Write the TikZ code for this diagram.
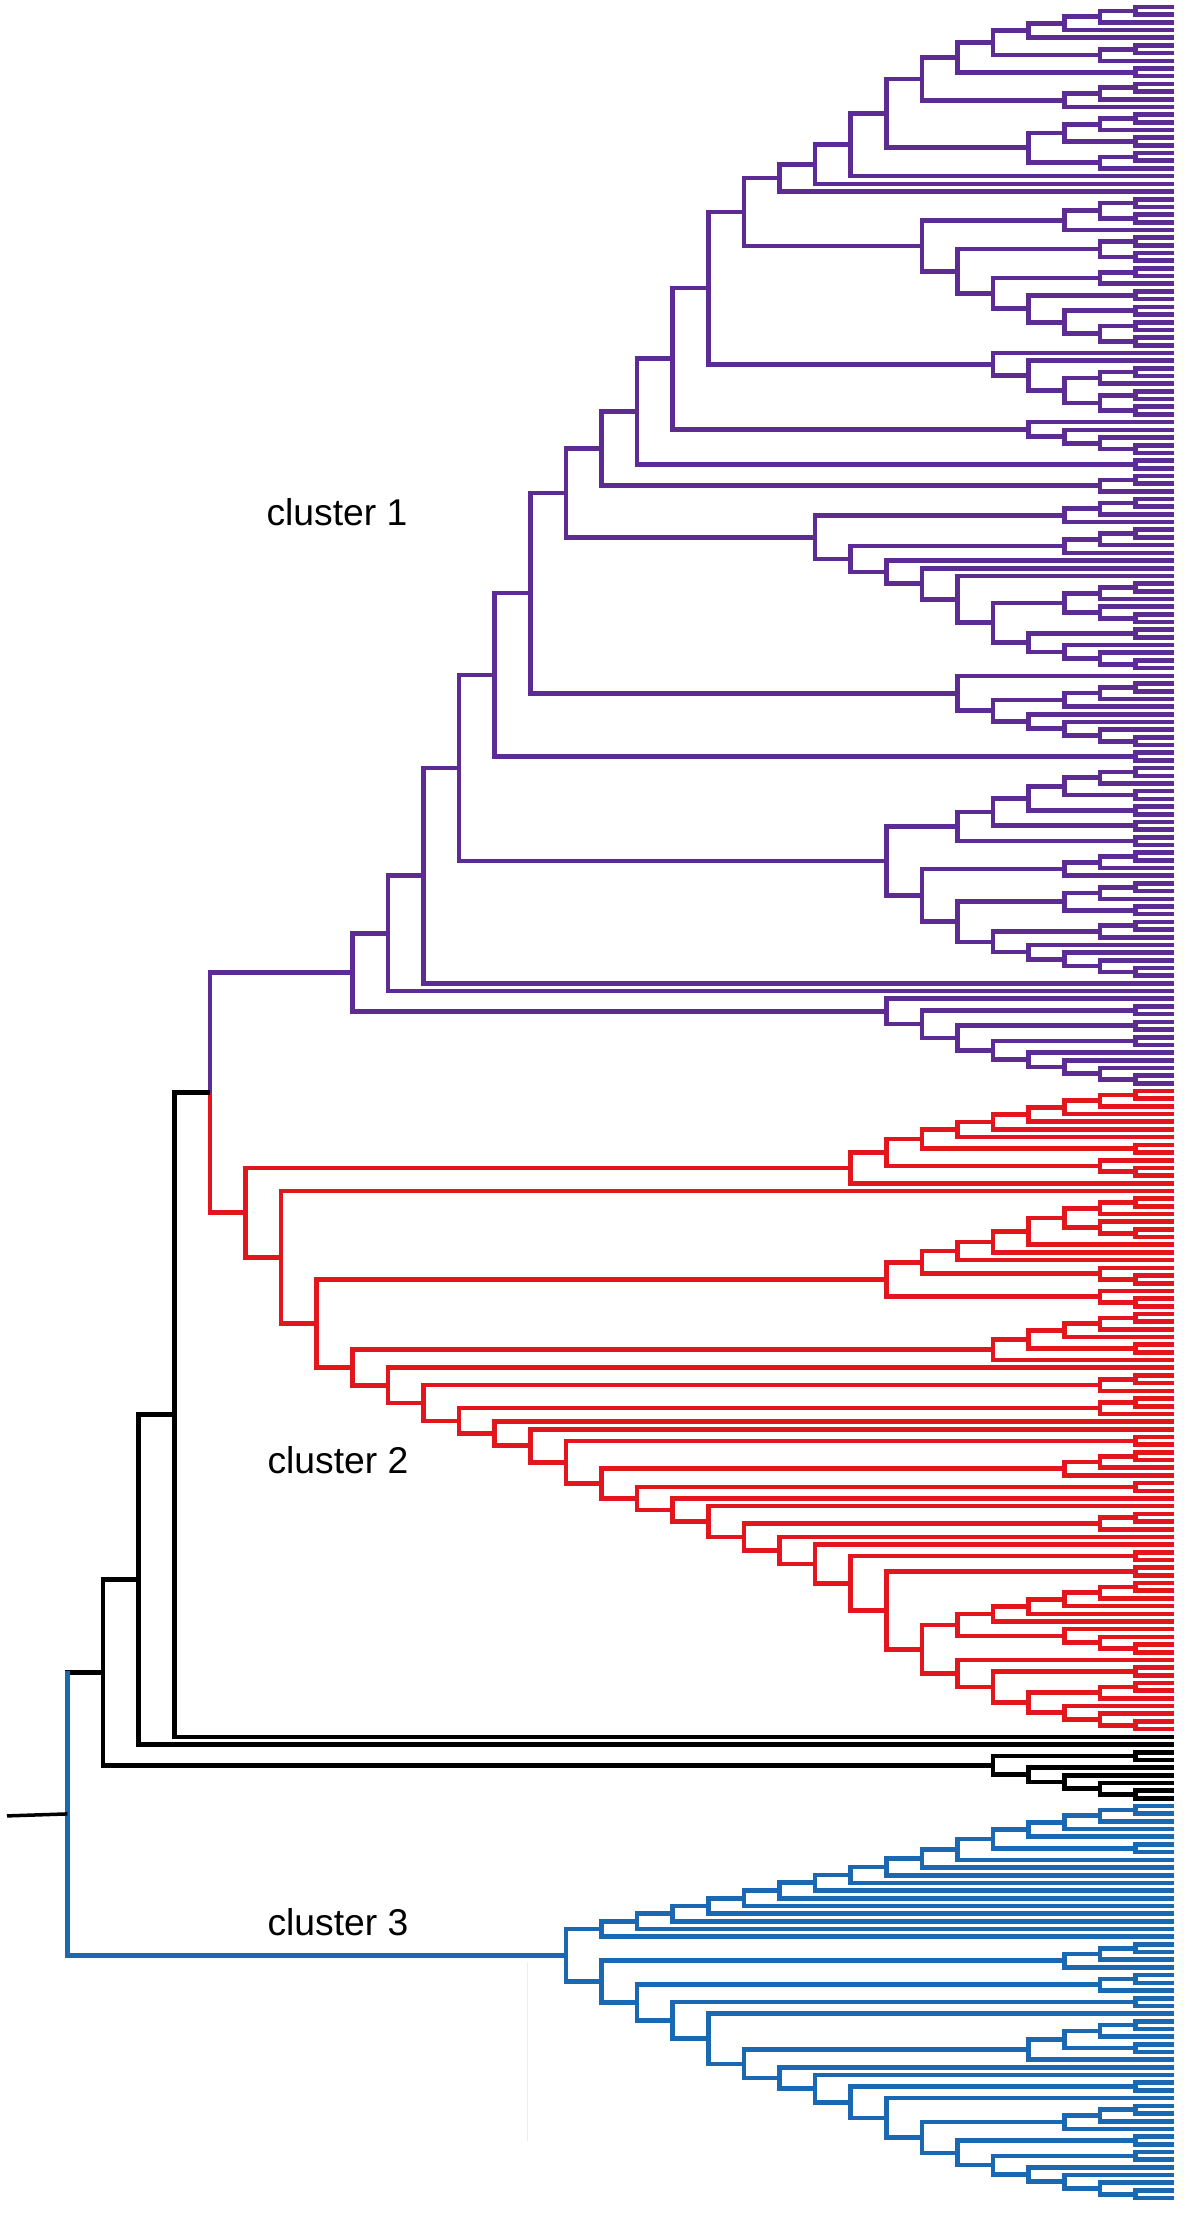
\documentclass[tikz,border=0pt]{standalone}
\usepackage{fontspec}
\setmainfont{Liberation Sans}

\definecolor{cpurple}{RGB}{92,44,148}
\definecolor{cred}{RGB}{226,22,28}
\definecolor{cblue}{RGB}{26,104,178}

% dendrogram helpers: leaves are placed top to bottom,
% an inner node sits at level h (x = 1171 - 35.6 h)
\newcount\leafno
\newcount\nodeno
\def\tc{black}
\newcommand\dleaf{%
  \global\advance\leafno by 1
  \pgfmathsetmacro\tmpy{7+(\the\leafno-1)*7.688}%
  \xdef\ry{\tmpy}\xdef\rx{1174}\xdef\rc{\tc}}
\newcommand\dnode[3]{%
  \begingroup
  #2\let\ya\ry\let\xa\rx\let\ca\rc
  #3\let\yb\ry\let\xb\rx\let\cb\rc
  \pgfmathsetmacro\xn{1171-35.6*#1}%
  \pgfmathsetmacro\yn{(\ya+\yb)/2}%
  \global\advance\nodeno by 1
  \coordinate (n\the\nodeno) at (\xn,\yn);
  \draw[color=\ca] (\xa,\ya) -- (\xn,\ya) -- (\xn,\yn);
  \draw[color=\cb] (\xb,\yb) -- (\xn,\yb) -- (\xn,\yn);
  \xdef\ry{\yn}\xdef\rx{\xn}\xdef\rc{\tc}%
  \xdef\lya{\ya}\xdef\lyb{\yb}%
  \endgroup}
\newcommand\dclr[2]{\begingroup\def\tc{#1}#2\endgroup}
\newcommand\dpair{\dnode{1}{\dleaf}{\dleaf}}
\newcommand\dtop[2]{\dnode{#1}{#2}{\dleaf}}
\newcommand\dbot[2]{\dnode{#1}{\dleaf}{#2}}

% cluster 1
\newcommand\subPa{\dtop{11}{\dtop{10}{\dtop{9}{\dnode{8}{\subPaa}{\subPab}}}}}
\newcommand\subPaa{\dnode{7}{\dnode{6}{\dnode{5}{\dtop{4}{\dtop{3}{\dtop{2}{\dpair}}}}{\dtop{2}{\dpair}}}{\dpair}}{\dtop{3}{\dtop{2}{\dpair}}}}
\newcommand\subPab{\dnode{4}{\dnode{3}{\dtop{2}{\dpair}}{\dpair}}{\dtop{2}{\dpair}}}
\newcommand\subPb{\dnode{7}{\dtop{3}{\dnode{2}{\dpair}{\dpair}}}{\dnode{6}{\dnode{2}{\dpair}{\dpair}}{\dnode{5}{\dtop{2}{\dpair}}{\dnode{4}{\dpair}{\dnode{3}{\dpair}{\dnode{2}{\dpair}{\dpair}}}}}}}
\newcommand\subPc{\dbot{5}{\dbot{4}{\dnode{3}{\dtop{2}{\dpair}}{\dnode{2}{\dpair}{\dpair}}}}}
\newcommand\subPd{\dbot{4}{\dbot{3}{\dbot{2}{\dpair}}}}
\newcommand\subPe{\dtop{2}{\dpair}}
\newcommand\subPfx{\dnode{5}{\dnode{3}{\dtop{2}{\dpair}}{\dbot{2}{\dpair}}}{\dnode{4}{\dpair}{\dbot{3}{\dbot{2}{\dpair}}}}}
\newcommand\subPf{\dnode{10}{\dtop{3}{\dtop{2}{\dpair}}}{\dnode{9}{\dtop{3}{\dtop{2}{\dpair}}}{\dbot{8}{\dbot{7}{\dbot{6}{\subPfx}}}}}}
\newcommand\subPg{\dbot{6}{\dnode{5}{\dtop{3}{\dtop{2}{\dpair}}}{\dbot{4}{\dbot{3}{\dbot{2}{\dpair}}}}}}
\newcommand\subPha{\dnode{6}{\dnode{5}{\dnode{4}{\dnode{3}{\dtop{2}{\dpair}}{\dpair}}{\dpair}}{\dpair}}{\dpair}}
\newcommand\subPhb{\dnode{7}{\dtop{3}{\dtop{2}{\dpair}}}{\dnode{6}{\dnode{3}{\dtop{2}{\dpair}}{\dpair}}{\dnode{5}{\dtop{2}{\dpair}}{\dbot{4}{\dbot{3}{\dbot{2}{\dpair}}}}}}}
\newcommand\subPh{\dnode{8}{\subPha}{\subPhb}}
\newcommand\subPi{\dbot{8}{\dnode{7}{\dpair}{\dnode{6}{\dpair}{\dnode{5}{\dpair}{\dbot{4}{\dbot{3}{\dbot{2}{\dpair}}}}}}}}
\newcommand\subP{\dnode{23}{\dtop{22}{\dtop{21}{\dnode{20}{\dnode{19}{\dnode{18}{\dnode{17}{\dnode{16}{\dnode{15}{\dnode{14}{\dnode{13}{\dnode{12}{\subPa}{\subPb}}{\subPc}}{\subPd}}{\dpair}}{\subPe}}{\subPf}}{\subPg}}{\dpair}}{\subPh}}}}{\subPi}}

% cluster 2
\newcommand\subRa{\dtop{9}{\dnode{8}{\dnode{7}{\dtop{6}{\dtop{5}{\dtop{4}{\dtop{3}{\dtop{2}{\dpair}}}}}}{\dpair}}{\dbot{2}{\dpair}}}}
\newcommand\subRb{\dnode{8}{\dnode{7}{\dtop{6}{\dtop{5}{\dtop{4}{\dnode{3}{\dtop{2}{\dpair}}{\dbot{2}{\dpair}}}}}}{\dbot{2}{\dpair}}}{\dbot{2}{\dpair}}}
\newcommand\subRc{\dtop{5}{\dnode{4}{\dtop{3}{\dtop{2}{\dpair}}}{\dpair}}}
\newcommand\subRd{\dtop{3}{\dtop{2}{\dpair}}}
\newcommand\subRe{\dnode{6}{\dtop{5}{\dtop{4}{\dtop{3}{\dtop{2}{\dpair}}}}}{\dbot{3}{\dbot{2}{\dpair}}}}
\newcommand\subRf{\dbot{6}{\dnode{5}{\dpair}{\dnode{4}{\dtop{2}{\dpair}}{\dbot{3}{\dbot{2}{\dpair}}}}}}
\newcommand\subR{%
  \dnode{26}{\subRa}{\dbot{25}{%
  \dnode{24}{\subRb}{\dnode{23}{\subRc}{\dbot{22}{%
  \dnode{21}{\dtop{2}{\dpair}}{\dnode{20}{\dtop{2}{\dpair}}{%
  \dbot{19}{\dbot{18}{\dnode{17}{\dpair}{\dnode{16}{\subRd}{%
  \dnode{15}{\dpair}{\dbot{14}{\dbot{13}{%
  \dnode{12}{\dtop{2}{\dpair}}{\dbot{11}{\dbot{10}{%
  \dnode{9}{\dpair}{\dnode{8}{\dpair}{%
  \dnode{7}{\subRe}{\subRf}%
  }}}}}}}}}}}}}}}}}}}}

% small black group
\newcommand\subK{\dnode{5}{\dpair}{\dbot{4}{\dbot{3}{\dbot{2}{\dpair}}}}}

% cluster 3
\newcommand\subBa{\dtop{16}{\dtop{15}{\dtop{14}{\dtop{13}{\dtop{12}{\dtop{11}{\dtop{10}{\dtop{9}{\dtop{8}{\dtop{7}{\dtop{6}{\dnode{5}{\dtop{4}{\dtop{3}{\dtop{2}{\dpair}}}}{\dpair}}}}}}}}}}}}}
\newcommand\subBb{%
  \dnode{16}{\dtop{3}{\dtop{2}{\dpair}}}{%
  \dnode{15}{\dtop{2}{\dpair}}{\dnode{14}{\dpair}{\dbot{13}{%
  \dnode{12}{\dtop{4}{\dnode{3}{\dtop{2}{\dpair}}{\dpair}}}{%
  \dbot{11}{\dbot{10}{\dnode{9}{\dpair}{\dbot{8}{%
  \dnode{7}{\dtop{3}{\dtop{2}{\dpair}}}{\dnode{6}{\dpair}{\dnode{5}{\dpair}{%
  \dbot{4}{\dbot{3}{\dbot{2}{\dpair}}}%
  }}}}}}}}}}}}}
\newcommand\subB{\dnode{17}{\subBa}{\subBb}}

\begin{document}
\begin{tikzpicture}[x=0.01cm,y=-0.01cm,line width=0.046cm,line join=miter,
  lbl/.style={font=\fontsize{10.6}{12}\selectfont,inner sep=0pt}]
\useasboundingbox (0,0) rectangle (1187,2224);
\dclr{cblue}{\dnode{31}{\dclr{black}{\dnode{30}{\dtop{29}{\dtop{28}{\dnode{27}{\dclr{cpurple}{\subP}}{\dclr{cred}{\subR}}}}}{\subK}}}{\subB}}
\coordinate (root) at (\rx,\ry);
\coordinate (stub) at (7,\ry+2);
\draw[cblue] (\rx,\lya-2) -- (\rx,\lyb);
\draw[line width=0.035cm] (stub) -- (root);
\draw[black!7,line width=0.2pt] (527,1962) -- (527,2141);

\node[lbl] (c1) at (337,512) {cluster 1};
\node[lbl] (c2) at (338,1460) {cluster 2};
\node[lbl] (c3) at (338,1922) {cluster 3};
\end{tikzpicture}
\end{document}
